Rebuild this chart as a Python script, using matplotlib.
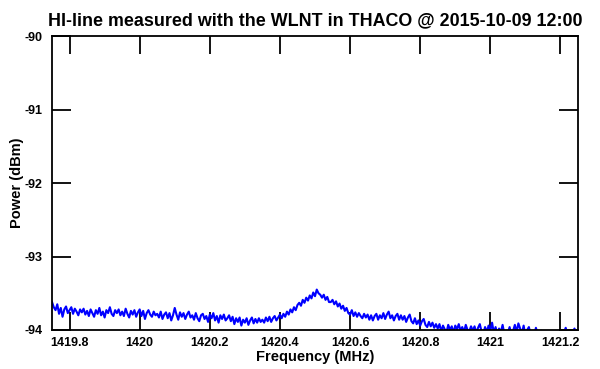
import matplotlib
matplotlib.use('Agg')
import matplotlib.pyplot as plt
import numpy as np

plt.rcParams['font.family'] = ['Liberation Sans', 'DejaVu Sans']
plt.rcParams['font.weight'] = 'bold'
plt.rcParams['axes.unicode_minus'] = False

# spectrum channels: 1419.75 MHz .. 1421.25 MHz, 5 kHz step
freq_start = 1419.75
freq_step = 0.005

# measured power (dBm)
power = [
    -93.62, -93.69, -93.73, -93.65, -93.78, -93.70, -93.82, -93.72, -93.68, -93.77,
    -93.73, -93.69, -93.78, -93.71, -93.75, -93.80, -93.72, -93.76, -93.71, -93.79,
    -93.74, -93.81, -93.72, -93.77, -93.82, -93.73, -93.78, -93.70, -93.80, -93.75,
    -93.83, -93.73, -93.77, -93.69, -93.78, -93.81, -93.73, -93.77, -93.72, -93.80,
    -93.75, -93.81, -93.71, -93.78, -93.83, -93.74, -93.79, -93.73, -93.82, -93.76,
    -93.72, -93.81, -93.74, -93.85, -93.77, -93.73, -93.79, -93.82, -93.75, -93.80,
    -93.78, -93.83, -93.75, -93.85, -93.79, -93.76, -93.84, -93.77, -93.87, -93.80,
    -93.70, -93.79, -93.86, -93.76, -93.82, -93.77, -93.85, -93.79, -93.75, -93.83,
    -93.80, -93.86, -93.77, -93.84, -93.88, -93.80, -93.78, -93.85, -93.81, -93.89,
    -93.79, -93.84, -93.77, -93.87, -93.81, -93.90, -93.80, -93.85, -93.79, -93.87,
    -93.84, -93.80, -93.88, -93.82, -93.92, -93.84, -93.89, -93.83, -93.94, -93.86,
    -93.90, -93.84, -93.93, -93.87, -93.83, -93.91, -93.85, -93.90, -93.84, -93.89,
    -93.86, -93.90, -93.83, -93.88, -93.82, -93.89, -93.84, -93.81, -93.87, -93.83,
    -93.79, -93.84, -93.78, -93.82, -93.75, -93.79, -93.72, -93.76, -93.69, -93.73,
    -93.66, -93.63, -93.67, -93.59, -93.63, -93.56, -93.60, -93.53, -93.57, -93.49,
    -93.54, -93.45, -93.50, -93.52, -93.56, -93.52, -93.59, -93.55, -93.62, -93.62,
    -93.59, -93.65, -93.61, -93.68, -93.64, -93.71, -93.67, -93.74, -93.70, -93.77,
    -93.79, -93.73, -93.81, -93.76, -93.82, -93.77, -93.81, -93.84, -93.78, -93.83,
    -93.79, -93.86, -93.80, -93.87, -93.81, -93.78, -93.86, -93.80, -93.84, -93.77,
    -93.85, -93.79, -93.75, -93.84, -93.80, -93.87, -93.81, -93.78, -93.86, -93.80,
    -93.86, -93.81, -93.89, -93.83, -93.79, -93.88, -93.91, -93.84, -93.92, -93.87,
    -93.94, -93.88, -93.85, -93.93, -93.96, -93.89, -93.95, -93.90, -93.97, -93.92,
    -93.98, -93.92, -94.02, -93.94, -93.99, -94.03, -93.93, -94.00, -93.95, -94.04,
    -93.94, -93.99, -93.92, -94.01, -93.96, -94.03, -93.93, -94.00, -94.02, -93.95,
    -94.01, -93.95, -94.04, -93.97, -93.92, -94.02, -94.05, -93.96, -94.03, -93.94,
    -94.01, -93.90, -94.04, -93.96, -94.06, -93.98, -94.03, -93.93, -94.05, -94.01,
    -94.04, -93.96, -94.06, -94.01, -93.93, -94.03, -93.91, -93.98, -94.05, -93.94,
    -94.07, -94.00, -93.96, -94.06, -94.02, -94.08, -93.97, -94.05, -94.07, -94.01,
    -94.06, -94.09, -94.03, -94.08, -94.02, -94.07, -94.10, -94.04, -94.08, -94.05,
    -94.01, -94.07, -94.03, -93.97, -94.06, -94.02, -94.07, -94.03, -93.98, -94.05,
    -94.02,
]
freq = freq_start + freq_step * np.arange(len(power))

xticks = [1419.8, 1420, 1420.2, 1420.4, 1420.6, 1420.8, 1421, 1421.2]
xticklabels = ['1419.8', '1420', '1420.2', '1420.4', '1420.6', '1420.8', '1421', '1421.2']
yticks = [-94, -93, -92, -91, -90]

fig = plt.figure(figsize=(6, 3.69), dpi=100)
ax = fig.add_axes([0.0867, 0.1057, 0.8766, 0.7967])
ax.plot(freq, power, color='#0000ff', linewidth=1.5)

ax.set_xlim(1419.75, 1421.25)
ax.set_ylim(-94, -90)
ax.set_xticks(xticks)
ax.set_xticklabels(xticklabels)
ax.set_yticks(yticks)
ax.tick_params(axis='both', direction='in', top=True, right=True,
               width=1.3, labelsize=9, pad=5)
ax.tick_params(axis='x', length=13)
ax.tick_params(axis='y', length=14, pad=7)
for s in ax.spines.values():
    s.set_linewidth(1.3)

ax.set_xlabel('Frequency (MHz)', fontsize=10.5, fontweight='bold', labelpad=1)
ax.set_ylabel('Power (dBm)', fontsize=10.5, fontweight='bold', labelpad=0)
ax.set_title('HI-line measured with the WLNT in THACO @ 2015-10-09 12:00',
             fontsize=12.9, fontweight='bold', pad=8)

fig.savefig('out.png', dpi=100)
